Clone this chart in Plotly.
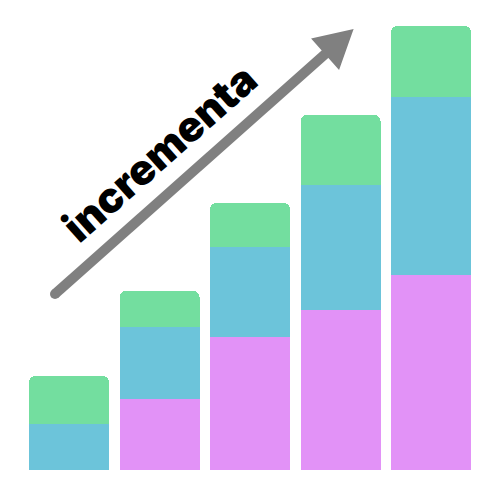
import plotly.graph_objects as go
import math

categories = ["1", "2", "3", "4", "5"]
pink = [0.0, 7.1, 13.3, 16.0, 19.5]
blue = [4.6, 7.2, 9.0, 12.5, 17.8]
green = [4.8, 3.6, 4.4, 7.0, 7.1]
label = "incrementa"

C_PINK = "#e292f7"
C_BLUE = "#6cc4da"
C_GREEN = "#73de9f"
C_ARROW = "#808080"

fig = go.Figure()
for vals, col in [(pink, C_PINK), (blue, C_BLUE), (green, C_GREEN)]:
    fig.add_bar(x=list(range(len(categories))), y=vals, marker_color=col,
                marker_line_width=0, width=0.884)

W, H, B = 500, 500, 30
PH = H - B

def px(x):
    return x / W

def py(y):
    return (PH - y) / PH

tail = (55, 294)
tip = (349, 33)
dx, dy = tip[0] - tail[0], tip[1] - tail[1]
L = math.hypot(dx, dy)
ux, uy = dx / L, dy / L
nx, ny = -uy, ux
hl, hw = 29, 16
bx, by = tip[0] - hl * ux, tip[1] - hl * uy
c1 = (bx + hw * nx, by + hw * ny)
c2 = (bx - hw * nx, by - hw * ny)
lx, ly = tip[0] - (hl - 4) * ux, tip[1] - (hl - 4) * uy

shapes = [
    dict(type="line", xref="paper", yref="paper",
         x0=px(tail[0]), y0=py(tail[1]), x1=px(lx), y1=py(ly),
         line=dict(color=C_ARROW, width=10)),
    dict(type="circle", xref="paper", yref="paper",
         x0=px(tail[0] - 5), x1=px(tail[0] + 5), y0=py(tail[1] - 5), y1=py(tail[1] + 5),
         fillcolor=C_ARROW, line=dict(width=0)),
    dict(type="path", xref="paper", yref="paper",
         path=f"M {px(tip[0])} {py(tip[1])} L {px(c1[0])} {py(c1[1])} L {px(c2[0])} {py(c2[1])} Z",
         fillcolor=C_ARROW, line=dict(color=C_ARROW, width=6)),
]

fig.update_layout(
    barmode="stack",
    barcornerradius=6,
    width=W, height=H,
    margin=dict(l=0, r=0, t=0, b=B),
    paper_bgcolor="white", plot_bgcolor="white",
    showlegend=False,
    xaxis=dict(range=[-69 / 90.5, (W - 69) / 90.5], visible=False, fixedrange=True),
    yaxis=dict(range=[0, PH / 10], visible=False, fixedrange=True),
    shapes=shapes,
    annotations=[dict(text=label, xref="paper", yref="paper",
                      x=px(159), y=py(152), xanchor="center", yanchor="middle",
                      showarrow=False, textangle=-41.6,
                      font=dict(family="Inter", size=42, color="black", weight=900))],
)

fig.write_html("out.html")
